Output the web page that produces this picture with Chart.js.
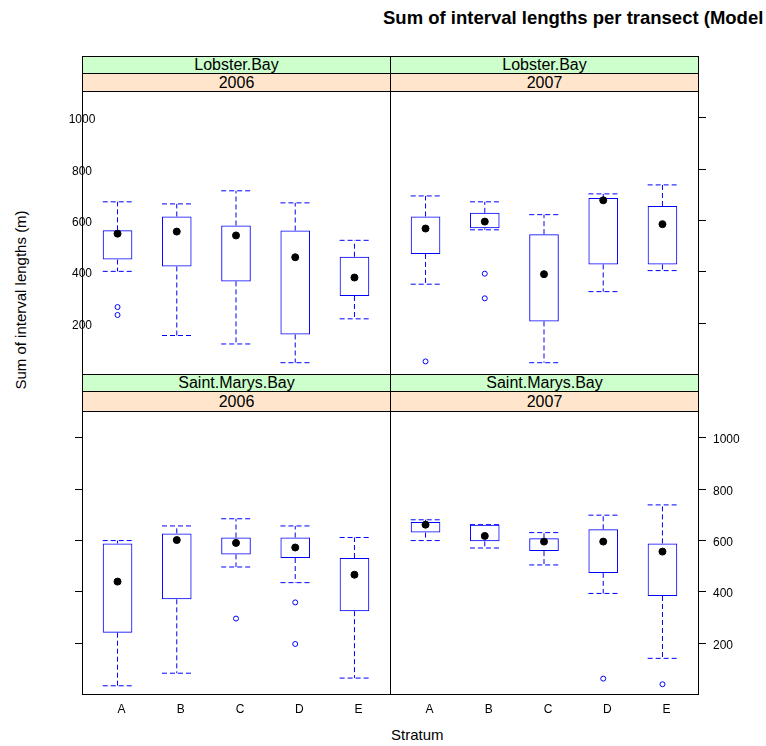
<!DOCTYPE html>
<html lang="en">
<head>
<meta charset="UTF-8">
<title>Sum of interval lengths per transect</title>
<script src="https://cdn.jsdelivr.net/npm/chart.js"></script>
<style>
    body { margin: 0; width: 766px; height: 746px; overflow: hidden; background: #fff; position: relative;
           font-family: "Liberation Sans", Arial, sans-serif; }
    canvas { position: absolute; left: 0; top: 0; }
    .strip { position: absolute; box-sizing: border-box; border: 1px solid #000; text-align: center;
             font-size: 16px; color: #000; }
    .site { background: #ccffcc; }
    .year { background: #ffe5cc; }
    .txt { position: absolute; white-space: nowrap; color: #000; }
</style>
</head>
<body>
<div class="txt" style="left:383px; top:7px; font-weight:bold; font-size:18.5px;">Sum of interval lengths per transect (Model data)</div>

<div class="strip site" style="left:82px; top:56px; width:309px; height:18px; line-height:16px;">Lobster.Bay</div>
<div class="strip year" style="left:82px; top:73px; width:309px; height:19px; line-height:17px;">2006</div>
<div class="strip site" style="left:390px; top:56px; width:309px; height:18px; line-height:16px;">Lobster.Bay</div>
<div class="strip year" style="left:390px; top:73px; width:309px; height:19px; line-height:17px;">2007</div>
<div class="strip site" style="left:82px; top:374px; width:309px; height:18px; line-height:16px;">Saint.Marys.Bay</div>
<div class="strip year" style="left:82px; top:391px; width:309px; height:21px; line-height:19px;">2006</div>
<div class="strip site" style="left:390px; top:374px; width:309px; height:18px; line-height:16px;">Saint.Marys.Bay</div>
<div class="strip year" style="left:390px; top:391px; width:309px; height:21px; line-height:19px;">2007</div>

<div class="txt" style="left:391px; top:726px; font-size:15px;">Stratum</div>
<div class="txt" style="left:20px; top:300px; font-size:15px; transform: translate(-50%, -50%) rotate(-90deg);">Sum of interval lengths (m)</div>

<canvas id="lb2006" width="766" height="746"></canvas>
<canvas id="lb2007" width="766" height="746"></canvas>
<canvas id="smb2006" width="766" height="746"></canvas>
<canvas id="smb2007" width="766" height="746"></canvas>

<script>
    const strata = ['A', 'B', 'C', 'D', 'E'];
    const yTicks = [200, 400, 600, 800, 1000];
    const yMin = 0, yMax = 1103;

    // Lobster.Bay 2006
    const lb06Min = [400, 150, 117, 44, 215];
    const lb06Q1 = [446, 419, 361, 154, 304];
    const lb06Med = [547, 555, 540, 455, 376];
    const lb06Q3 = [560, 614, 579, 559, 457];
    const lb06Max = [671, 663, 714, 667, 521];
    const lb06Out = [[261, 230], [], [], [], []];

    // Lobster.Bay 2007
    const lb07Min = [350, 562, 44, 321, 403];
    const lb07Q1 = [468, 568, 205, 427, 427];
    const lb07Med = [567, 594, 389, 677, 584];
    const lb07Q3 = [614, 628, 545, 686, 655];
    const lb07Max = [694, 671, 621, 702, 737];
    const lb07Out = [[49], [391, 295], [], [], []];

    // Saint.Marys.Bay 2006
    const smb06Min = [32, 81, 495, 434, 62];
    const smb06Q1 = [239, 369, 544, 530, 323];
    const smb06Med = [438, 600, 589, 571, 465];
    const smb06Q3 = [587, 626, 610, 610, 530];
    const smb06Max = [598, 655, 683, 655, 610];
    const smb06Out = [[], [], [294], [357, 195], []];

    // Saint.Marys.Bay 2007
    const smb07Min = [598, 569, 503, 392, 139];
    const smb07Q1 = [629, 595, 557, 472, 382];
    const smb07Med = [660, 616, 594, 594, 555];
    const smb07Q3 = [670, 660, 607, 642, 587];
    const smb07Max = [679, 660, 629, 697, 737];
    const smb07Out = [[], [], [], [60], [38]];

    const boxBlue = '#0000ff';

    // frame, tick marks and tick labels of a lattice panel, placed with the chart scales
    const panelFrame = {
        id: 'panelFrame',
        afterDatasetsDraw(chart, args, opts) {
            const {ctx, chartArea: a, scales: {x, y}} = chart;
            ctx.save();
            ctx.strokeStyle = '#000';
            ctx.lineWidth = 1;
            ctx.strokeRect(a.left + 0.5, a.top + 0.5, a.width, a.height);
            ctx.font = '12px "Liberation Sans", Arial, sans-serif';
            ctx.fillStyle = '#000';
            ctx.textBaseline = 'middle';
            yTicks.forEach(v => {
                const py = Math.round(y.getPixelForValue(v)) + 0.5;
                if (opts.ticks === 'left') {
                    ctx.beginPath(); ctx.moveTo(a.left - 7, py); ctx.lineTo(a.left, py); ctx.stroke();
                } else if (opts.ticks === 'right') {
                    ctx.beginPath(); ctx.moveTo(a.right, py); ctx.lineTo(a.right + 8, py); ctx.stroke();
                }
                if (opts.labels === 'left') {
                    ctx.textAlign = 'center';
                    ctx.fillText(String(v), a.left, py + 2);
                } else if (opts.labels === 'right') {
                    ctx.textAlign = 'left';
                    ctx.fillText(String(v), a.right + 15, py + 2);
                }
            });
            if (opts.xLabels) {
                ctx.textAlign = 'center';
                x.ticks.forEach((t, i) => {
                    ctx.fillText(strata[i], x.getPixelForValue(t.value) + 4, a.bottom + 16);
                });
            }
            ctx.restore();
        }
    };

    function makePanel(id, left, top, mins, q1, med, q3, maxs, outs, frame) {
        const whiskers = [];
        strata.forEach((s, i) => {
            const c = i + 1;
            whiskers.push({x: c, y: q3[i]}, {x: c, y: maxs[i]}, {x: c, y: null});
            whiskers.push({x: c, y: q1[i]}, {x: c, y: mins[i]}, {x: c, y: null});
            whiskers.push({x: c - 0.25, y: maxs[i]}, {x: c + 0.25, y: maxs[i]}, {x: c, y: null});
            whiskers.push({x: c - 0.25, y: mins[i]}, {x: c + 0.25, y: mins[i]}, {x: c, y: null});
        });
        const outliers = [];
        outs.forEach((list, i) => list.forEach(v => outliers.push({x: i + 1, y: v})));

        new Chart(document.getElementById(id), {
            type: 'bar',
            data: {
                datasets: [
                    {
                        type: 'bar',
                        data: strata.map((s, i) => ({x: i + 1, y: [q1[i], q3[i]]})),
                        backgroundColor: 'rgba(0,0,0,0)',
                        borderColor: boxBlue,
                        borderWidth: 1,
                        borderSkipped: false,
                        categoryPercentage: 1,
                        barPercentage: 0.5,
                        order: 2
                    },
                    {
                        type: 'line',
                        data: whiskers,
                        borderColor: boxBlue,
                        borderWidth: 1,
                        borderDash: [5, 3],
                        pointRadius: 0,
                        spanGaps: false,
                        fill: false,
                        order: 3
                    },
                    {
                        type: 'scatter',
                        data: outliers,
                        borderColor: boxBlue,
                        backgroundColor: 'rgba(0,0,0,0)',
                        borderWidth: 1,
                        pointRadius: 2.5,
                        order: 1
                    },
                    {
                        type: 'scatter',
                        data: strata.map((s, i) => ({x: i + 1, y: med[i]})),
                        borderColor: '#000',
                        backgroundColor: '#000',
                        pointRadius: 3.5,
                        order: 0
                    }
                ]
            },
            options: {
                responsive: false,
                animation: false,
                events: [],
                layout: {
                    padding: {left: left, top: top, right: 766 - left - 308, bottom: 746 - top - 283}
                },
                scales: {
                    x: {
                        type: 'linear', min: 0.4, max: 5.6, offset: false, display: false,
                        afterBuildTicks: s => { s.ticks = strata.map((c, i) => ({value: i + 1})); }
                    },
                    y: {type: 'linear', min: yMin, max: yMax, display: false}
                },
                plugins: {
                    legend: {display: false},
                    tooltip: {enabled: false},
                    panelFrame: frame
                }
            },
            plugins: [panelFrame]
        });
    }

    makePanel('lb2006', 82, 91, lb06Min, lb06Q1, lb06Med, lb06Q3, lb06Max, lb06Out,
        {ticks: null, labels: 'left', xLabels: false});
    makePanel('lb2007', 390, 91, lb07Min, lb07Q1, lb07Med, lb07Q3, lb07Max, lb07Out,
        {ticks: 'right', labels: null, xLabels: false});
    makePanel('smb2006', 82, 411, smb06Min, smb06Q1, smb06Med, smb06Q3, smb06Max, smb06Out,
        {ticks: 'left', labels: null, xLabels: true});
    makePanel('smb2007', 390, 411, smb07Min, smb07Q1, smb07Med, smb07Q3, smb07Max, smb07Out,
        {ticks: 'right', labels: 'right', xLabels: true});
</script>
</body>
</html>
